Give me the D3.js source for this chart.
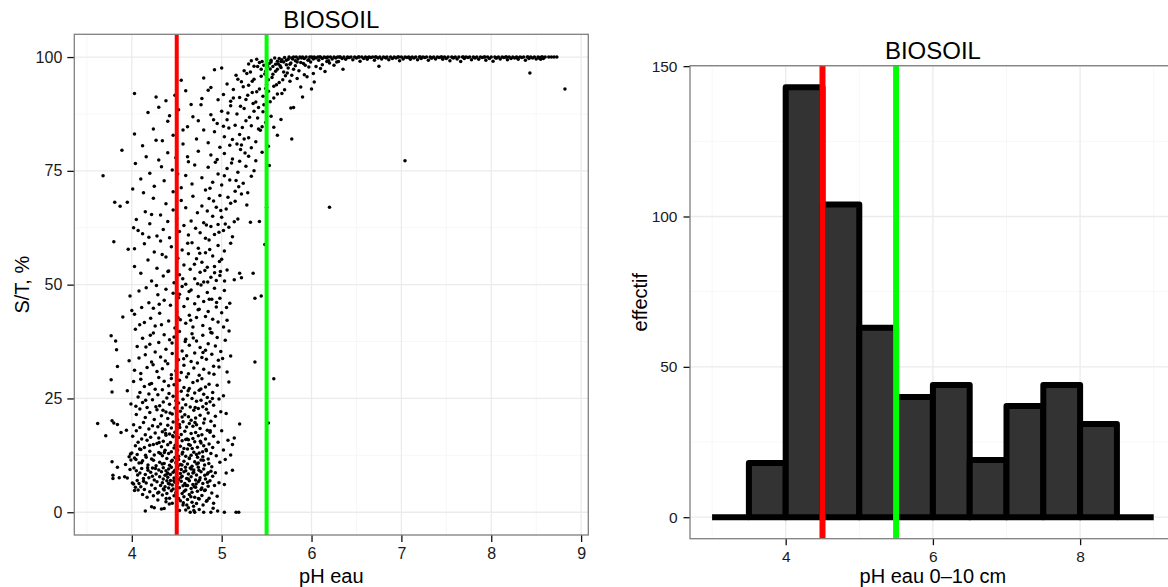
<!DOCTYPE html>
<html><head><meta charset="utf-8">
<script src="https://cdn.jsdelivr.net/npm/d3@7"></script>
<style>
body{margin:0;background:#fff}
svg{display:block}
text{font-family:"Liberation Sans",Arial,Helvetica,sans-serif}
</style>
</head><body>
<svg id="chart" width="1168" height="587"></svg>
<script>
// ---------------- DATA ----------------
const panelTitle = "BIOSOIL";
const scatterXLabel = "pH eau";
const scatterYLabel = "S/T, %";
const histXLabel = "pH eau 0\u201310 cm";
const histYLabel = "effectif";
const scatterXTicks = [4, 5, 6, 7, 8, 9];
const scatterYTicks = [0, 25, 50, 75, 100];
const histXTicks = [4, 6, 8];
const histYTicks = [0, 50, 100, 150];
const thresholdValues = [4.5, 5.5];
const thresholdNames = ["red", "green"];

const histBinStarts = [3, 3.5, 4, 4.5, 5, 5.5, 6, 6.5, 7, 7.5, 8, 8.5];
const histBinWidth = 0.5;
const histCounts = [0, 18, 143, 104, 63, 40, 44, 19, 37, 44, 31, 0];

// scatter observations [pH eau, S/T %]
const obsST0to10 = [[3.79,8.1],[3.79,7.4],[3.84,9.9],[3.86,7.6],[3.92,7.8],[3.95,7.5],[3.98,9.4],[4.02,6.2],[4.03,4.8],[4.04,5.5],[4.05,9.1],[4.06,7.0],[4.07,4.9],[4.08,6.3],[4.09,8.6],[4.1,5.6],[4.11,9.6],[4.12,3.9],[4.13,7.4],[4.14,5.0],[4.15,0.3],[4.15,8.3],[4.16,6.4],[4.17,3.3],[4.18,9.2],[4.19,7.6],[4.2,4.5],[4.21,8.8],[4.22,1.2],[4.22,6.0],[4.23,9.7],[4.24,3.6],[4.25,7.1],[4.25,1.0],[4.26,5.2],[4.27,8.4],[4.28,6.7],[4.29,2.7],[4.3,9.3],[4.3,4.4],[4.31,7.8],[4.32,5.9],[4.33,0.7],[4.33,8.9],[4.34,3.8],[4.34,6.5],[4.35,9.8],[4.35,7.3],[4.36,0.8],[4.36,4.9],[4.37,8.1],[4.37,5.6],[4.38,2.3],[4.38,9.1],[4.39,6.9],[4.39,4.1],[4.4,7.7],[4.4,8.6],[4.41,5.3],[4.41,9.5],[4.42,3.1],[4.42,6.2],[4.43,8.3],[4.43,7.0],[4.44,4.7],[4.44,9.9],[4.45,6.0],[4.45,2.0],[4.46,8.8],[4.46,5.1],[4.47,7.5],[4.47,3.6],[4.48,9.2],[4.48,6.6],[4.49,4.3],[4.5,8.0],[4.5,1.3],[4.51,6.4],[4.51,9.6],[4.52,3.0],[4.52,7.2],[4.53,0.4],[4.53,5.4],[4.54,8.5],[4.54,2.5],[4.55,6.8],[4.55,9.4],[4.56,4.1],[4.56,7.9],[4.57,1.6],[4.57,5.8],[4.58,8.9],[4.58,3.4],[4.59,6.3],[4.6,0.5],[4.6,9.1],[4.6,4.9],[4.61,7.4],[4.62,2.8],[4.62,5.9],[4.63,8.4],[4.63,1.0],[4.64,6.9],[4.64,3.9],[4.65,0],[4.65,9.7],[4.66,5.2],[4.66,7.8],[4.67,2.2],[4.67,4.4],[4.68,8.6],[4.68,6.1],[4.69,0.4],[4.69,9.3],[4.7,0],[4.7,3.3],[4.71,7.1],[4.71,5.5],[4.72,1.9],[4.72,8.2],[4.73,4.6],[4.74,6.7],[4.74,9.9],[4.75,2.9],[4.75,0.6],[4.76,7.6],[4.77,5.0],[4.77,8.9],[4.78,3.7],[4.79,6.3],[4.8,0],[4.8,9.5],[4.81,4.8],[4.82,7.3],[4.83,2.4],[4.84,8.4],[4.85,5.7],[4.86,3.1],[4.87,6.9],[4.88,0],[4.88,9.0],[4.89,4.2],[4.9,7.9],[4.91,2.0],[4.92,5.9],[4.93,8.7],[4.95,3.5],[4.97,6.5],[5.03,0],[5.03,6.1],[5.05,8.6],[5.12,9.2],[5.16,0],[5.19,0]];

const obsST10to20 = [[3.62,19.5],[3.71,16.8],[3.78,11.1],[3.8,19.6],[3.84,19.3],[3.88,17.5],[3.93,10.5],[3.94,18.0],[3.97,12.2],[3.99,11.5],[4.0,13.0],[4.01,16.7],[4.02,19.2],[4.03,11.9],[4.04,14.6],[4.05,17.9],[4.06,12.7],[4.07,15.4],[4.08,10.8],[4.09,18.6],[4.1,13.8],[4.11,16.1],[4.12,11.3],[4.13,19.7],[4.14,14.2],[4.15,17.0],[4.16,12.1],[4.17,15.8],[4.18,10.4],[4.19,18.3],[4.2,13.4],[4.21,16.5],[4.22,11.7],[4.23,19.0],[4.24,14.9],[4.25,12.6],[4.26,17.4],[4.27,10.2],[4.28,15.1],[4.29,18.8],[4.3,13.1],[4.3,16.3],[4.31,11.0],[4.32,19.4],[4.33,14.4],[4.34,17.7],[4.34,12.4],[4.35,15.6],[4.36,10.7],[4.37,18.1],[4.37,13.6],[4.38,16.9],[4.39,11.8],[4.4,14.8],[4.4,19.1],[4.41,12.9],[4.42,17.2],[4.42,10.3],[4.43,15.3],[4.44,18.5],[4.44,13.3],[4.45,11.4],[4.46,16.6],[4.46,19.8],[4.47,14.1],[4.48,12.0],[4.48,17.6],[4.49,10.9],[4.5,15.0],[4.5,18.2],[4.51,13.7],[4.52,11.6],[4.52,16.4],[4.53,19.3],[4.54,14.5],[4.54,10.5],[4.55,17.1],[4.56,12.8],[4.56,15.7],[4.57,19.9],[4.58,11.2],[4.58,14.0],[4.59,17.8],[4.6,12.3],[4.6,16.0],[4.61,18.7],[4.62,10.6],[4.62,13.9],[4.63,15.9],[4.64,19.5],[4.64,11.9],[4.65,14.7],[4.66,17.3],[4.66,12.5],[4.67,10.1],[4.68,16.2],[4.68,18.9],[4.69,13.2],[4.7,11.1],[4.7,15.5],[4.71,17.5],[4.72,12.7],[4.72,19.2],[4.73,14.3],[4.74,10.8],[4.74,16.8],[4.75,13.0],[4.76,18.4],[4.77,11.5],[4.77,15.2],[4.78,17.0],[4.79,12.2],[4.8,19.6],[4.8,14.6],[4.81,10.4],[4.82,16.1],[4.83,13.5],[4.84,18.0],[4.85,11.7],[4.86,15.0],[4.87,17.6],[4.88,12.9],[4.89,10.0],[4.9,14.2],[4.91,16.7],[4.92,19.0],[4.94,12.4],[4.96,15.4],[4.98,11.0],[5.0,17.9],[5.02,13.7],[5.04,11.6],[5.07,15.8],[5.1,12.6],[5.12,14.9],[5.14,16.3],[5.2,19.4],[5.52,19.6]];

const obsST20to30 = [[3.77,29.1],[3.78,26.4],[3.78,20.1],[3.95,26.7],[3.99,23.8],[4.02,28.7],[4.05,21.5],[4.07,25.3],[4.09,22.7],[4.1,29.2],[4.12,24.1],[4.14,27.6],[4.15,20.8],[4.17,23.0],[4.19,26.0],[4.2,21.9],[4.22,28.3],[4.23,24.7],[4.25,20.4],[4.26,27.0],[4.28,22.5],[4.29,25.8],[4.3,29.6],[4.31,23.4],[4.33,21.2],[4.34,26.9],[4.35,24.2],[4.36,28.8],[4.38,22.0],[4.39,25.1],[4.4,20.6],[4.41,27.8],[4.42,23.7],[4.44,29.4],[4.45,21.6],[4.46,25.5],[4.47,28.0],[4.48,22.9],[4.5,26.4],[4.51,20.3],[4.52,24.0],[4.53,29.0],[4.54,22.2],[4.55,26.6],[4.56,20.9],[4.57,24.8],[4.58,27.4],[4.59,21.4],[4.6,23.6],[4.61,29.7],[4.62,25.7],[4.63,21.0],[4.64,27.2],[4.65,23.1],[4.66,20.2],[4.67,25.0],[4.68,28.5],[4.69,22.4],[4.7,26.2],[4.71,20.7],[4.72,24.4],[4.73,28.9],[4.74,22.8],[4.75,26.8],[4.76,21.3],[4.77,24.6],[4.78,29.3],[4.79,23.2],[4.8,25.9],[4.81,20.5],[4.82,27.5],[4.83,22.6],[4.84,25.2],[4.85,21.8],[4.86,28.1],[4.87,24.3],[4.88,20.0],[4.9,26.3],[4.91,23.5],[4.93,21.1],[4.95,27.9],[4.97,24.9],[4.99,22.1],[5.02,25.6],[5.05,21.7],[5.08,28.6],[5.58,29.3]];

const obsST30to40 = [[3.77,38.8],[3.82,37.6],[3.83,35.7],[3.84,32.0],[3.97,33.3],[4.03,31.2],[4.06,36.4],[4.08,33.9],[4.1,30.5],[4.12,38.2],[4.15,34.6],[4.17,31.8],[4.2,36.9],[4.22,33.0],[4.24,39.4],[4.26,35.2],[4.28,30.9],[4.3,37.3],[4.32,34.1],[4.34,31.5],[4.36,39.0],[4.38,35.8],[4.4,32.6],[4.42,37.9],[4.44,30.2],[4.45,34.9],[4.47,38.5],[4.49,31.1],[4.5,36.1],[4.52,33.5],[4.53,39.7],[4.55,30.7],[4.56,35.4],[4.58,32.3],[4.6,38.0],[4.61,34.4],[4.63,30.4],[4.64,36.7],[4.66,33.1],[4.67,39.2],[4.69,31.7],[4.7,35.0],[4.72,37.6],[4.73,32.8],[4.75,30.1],[4.76,36.2],[4.78,34.0],[4.79,38.9],[4.8,31.4],[4.82,35.6],[4.83,33.6],[4.85,37.0],[4.86,30.6],[4.88,39.5],[4.89,34.7],[4.91,32.1],[4.93,36.5],[4.95,38.4],[4.97,31.9],[4.99,35.3],[5.01,33.8],[5.04,37.8],[5.06,30.8],[5.1,34.3],[5.37,33.0]];

const obsST40to50 = [[3.9,42.9],[3.98,47.5],[4.0,44.3],[4.03,43.5],[4.04,40.2],[4.08,48.6],[4.11,45.0],[4.14,41.7],[4.16,49.3],[4.19,46.0],[4.21,42.6],[4.24,44.8],[4.26,40.9],[4.29,47.8],[4.31,43.7],[4.33,41.2],[4.36,46.6],[4.38,49.0],[4.41,42.0],[4.43,45.5],[4.46,48.1],[4.48,40.5],[4.5,44.0],[4.52,47.1],[4.54,42.3],[4.56,49.6],[4.58,45.2],[4.6,41.5],[4.62,46.9],[4.64,43.3],[4.66,48.8],[4.68,40.7],[4.7,45.8],[4.72,42.8],[4.74,47.4],[4.75,44.6],[4.77,49.9],[4.79,41.0],[4.8,46.3],[4.82,43.0],[4.84,48.3],[4.85,44.1],[4.87,40.3],[4.89,46.8],[4.9,42.4],[4.92,49.2],[4.94,45.1],[4.96,41.8],[4.98,47.0],[5.0,43.8],[5.03,48.7],[5.06,42.2],[5.09,45.9],[5.37,47.0],[5.44,47.5]];

const obsST50to60 = [[3.8,59.4],[3.96,57.8],[4.03,54.0],[4.03,57.9],[4.1,52.5],[4.14,59.0],[4.18,55.4],[4.22,50.8],[4.25,57.2],[4.28,53.6],[4.32,59.6],[4.35,51.9],[4.38,56.1],[4.41,53.0],[4.44,58.3],[4.47,50.4],[4.5,55.0],[4.53,52.2],[4.56,57.6],[4.58,54.3],[4.6,50.1],[4.63,56.8],[4.65,53.4],[4.67,59.2],[4.7,51.3],[4.72,55.7],[4.74,58.0],[4.76,52.7],[4.78,54.9],[4.8,50.6],[4.82,57.0],[4.84,53.8],[4.86,59.8],[4.88,51.6],[4.9,56.3],[4.92,54.0],[4.94,50.9],[4.96,58.6],[4.98,52.0],[5.0,55.6],[5.03,57.4],[5.06,53.2],[5.1,59.1],[5.14,51.1],[5.2,52.5],[5.22,51.5],[5.35,52.5],[5.48,58.8]];

const obsST60to70 = [[3.81,68.1],[3.87,67.2],[3.95,68.1],[4.02,62.5],[4.05,64.3],[4.12,61.2],[4.15,66.0],[4.2,63.4],[4.24,69.0],[4.28,60.7],[4.32,65.3],[4.35,62.1],[4.38,67.8],[4.4,63.9],[4.42,60.3],[4.46,66.4],[4.5,64.6],[4.53,61.7],[4.55,68.5],[4.58,63.0],[4.6,66.9],[4.63,60.9],[4.66,64.0],[4.68,69.4],[4.71,62.4],[4.73,65.8],[4.76,61.4],[4.78,67.3],[4.8,63.6],[4.82,60.2],[4.84,66.2],[4.86,68.9],[4.88,62.8],[4.9,65.0],[4.92,61.0],[4.94,67.0],[4.96,63.2],[4.98,69.6],[5.0,64.8],[5.02,61.9],[5.05,66.6],[5.08,62.6],[5.12,60.5],[5.15,68.3],[5.18,64.4],[5.22,69.9],[5.28,67.5],[5.32,63.7],[5.42,63.9],[5.5,67.0],[6.2,67.0]];

const obsST70to80 = [[3.68,73.9],[3.89,79.5],[4.01,71.0],[4.04,76.6],[4.1,73.2],[4.16,78.1],[4.2,74.5],[4.25,71.6],[4.3,77.4],[4.36,72.8],[4.4,79.0],[4.45,75.2],[4.49,77.9],[4.55,71.3],[4.6,74.0],[4.63,77.0],[4.67,72.1],[4.7,76.3],[4.74,79.3],[4.78,73.5],[4.82,70.8],[4.85,75.8],[4.88,78.5],[4.9,72.5],[4.93,76.9],[4.96,74.3],[5.0,71.9],[5.03,78.8],[5.06,75.5],[5.09,73.0],[5.12,77.6],[5.15,70.5],[5.18,74.7],[5.21,79.7],[5.24,72.3],[5.27,76.0],[5.3,78.2],[5.33,73.8],[5.38,77.2],[5.45,79.1],[5.53,76.2],[7.04,77.2]];

const obsST80to90 = [[4.03,83.1],[4.12,80.5],[4.18,87.8],[4.24,84.2],[4.3,89.0],[4.34,81.6],[4.4,85.9],[4.46,82.8],[4.52,88.4],[4.57,80.9],[4.62,84.7],[4.68,86.9],[4.72,82.0],[4.77,89.5],[4.8,84.0],[4.85,81.2],[4.88,87.3],[4.92,83.6],[4.95,85.4],[4.98,80.2],[5.0,88.1],[5.03,82.5],[5.06,86.2],[5.08,84.4],[5.1,89.3],[5.12,81.9],[5.15,85.0],[5.17,87.5],[5.2,83.0],[5.22,80.7],[5.25,88.7],[5.27,86.0],[5.3,82.3],[5.33,84.9],[5.35,89.8],[5.38,81.4],[5.4,86.6],[5.43,83.9],[5.46,88.0],[5.49,85.6],[5.52,80.4],[5.55,87.0],[5.58,84.6],[5.62,82.8],[5.66,86.3],[5.78,82.0],[5.77,88.8],[5.8,88.9]];

const obsST90to98 = [[4.03,92.0],[4.27,91.2],[4.38,90.4],[4.48,91.6],[4.55,94.9],[4.6,92.6],[4.78,90.9],[4.8,95.4],[4.88,93.3],[4.92,97.2],[5.0,97.6],[5.02,91.8],[5.06,94.1],[5.1,90.3],[5.13,92.9],[5.16,96.0],[5.2,91.1],[5.22,94.6],[5.25,97.0],[5.27,90.7],[5.3,93.8],[5.32,96.7],[5.34,92.2],[5.36,95.1],[5.38,90.1],[5.4,97.9],[5.42,93.0],[5.44,95.8],[5.46,91.4],[5.48,96.3],[5.5,94.0],[5.52,92.5],[5.54,97.4],[5.56,95.5],[5.58,93.6],[5.6,96.9],[5.62,91.9],[5.64,94.4],[5.66,97.7],[5.68,95.0],[5.7,92.8],[5.73,96.5],[5.76,94.7],[5.8,97.3],[5.84,95.3],[5.88,93.4],[5.9,91.2],[5.92,96.1],[5.97,97.8],[6.0,93.0],[6.02,96.4],[6.03,94.5],[6.1,97.5],[6.15,96.8],[6.35,97.3],[6.75,98.0],[8.43,96.5],[8.82,93.0]];

const obsST98to100 = [[5.3,98.5],[5.33,99.2],[5.36,98.0],[5.39,99.5],[5.42,98.8],[5.45,99.0],[5.47,98.2],[5.5,99.6],[5.53,98.6],[5.55,99.3],[5.57,97.9],[5.59,99.8],[5.6,98.4],[5.62,99.1],[5.64,99.7],[5.65,98.1],[5.67,99.4],[5.69,98.9],[5.7,99.9],[5.72,98.3],[5.74,99.5],[5.75,100],[5.77,98.7],[5.78,99.8],[5.8,100],[5.82,99.2],[5.83,100],[5.85,99.6],[5.87,100],[5.88,98.8],[5.9,100],[5.92,99.7],[5.94,100],[5.96,99.3],[5.98,100],[6.0,100],[6.02,99.6],[6.03,100],[6.05,99.8],[6.07,100],[6.08,99.3],[6.1,100],[6.12,99.7],[6.12,98.3],[6.14,100],[6.16,99.9],[6.18,100],[6.19,99.2],[6.2,98.7],[6.21,100],[6.23,99.6],[6.25,100],[6.25,98.2],[6.27,99.8],[6.29,100],[6.3,99.0],[6.32,100],[6.34,99.7],[6.36,100],[6.38,99.5],[6.4,100],[6.42,99.9],[6.44,100],[6.46,99.4],[6.48,100],[6.5,99.8],[6.52,100],[6.54,99.1],[6.56,100],[6.58,99.7],[6.6,100],[6.62,99.5],[6.64,100],[6.66,99.9],[6.68,100],[6.7,99.3],[6.72,100],[6.74,99.8],[6.76,100],[6.78,99.6],[6.8,100],[6.82,99.9],[6.84,100],[6.86,99.4],[6.88,100],[6.9,99.7],[6.92,100],[6.94,99.8],[6.96,100],[6.98,99.2],[7.0,100],[7.02,99.6],[7.04,100],[7.06,99.9],[7.08,100],[7.1,99.5],[7.12,100],[7.14,99.8],[7.16,100],[7.18,99.4],[7.2,100],[7.22,99.7],[7.24,100],[7.26,99.9],[7.28,100],[7.3,99.3],[7.32,100],[7.34,99.8],[7.36,100],[7.38,99.6],[7.4,100],[7.42,99.9],[7.44,100],[7.46,99.5],[7.48,100],[7.5,99.7],[7.52,100],[7.54,99.2],[7.56,100],[7.58,99.8],[7.6,100],[7.62,99.6],[7.64,100],[7.66,99.0],[7.68,100],[7.7,99.7],[7.72,100],[7.74,99.9],[7.76,100],[7.78,99.4],[7.8,100],[7.82,99.8],[7.84,100],[7.86,99.5],[7.88,100],[7.9,99.9],[7.92,100],[7.94,99.3],[7.96,100],[7.98,99.7],[8.0,100],[8.02,99.1],[8.04,100],[8.06,99.8],[8.08,100],[8.1,99.6],[8.12,100],[8.14,99.9],[8.16,100],[8.18,99.4],[8.2,100],[8.22,99.7],[8.24,100],[8.26,99.8],[8.28,100],[8.3,99.5],[8.32,100],[8.34,99.9],[8.36,100],[8.38,99.3],[8.4,100],[8.42,99.7],[8.44,100],[8.46,99.8],[8.48,100],[8.5,99.6],[8.52,100],[8.54,99.9],[8.56,100],[8.58,99.7],[8.6,100],[8.64,100],[8.67,100],[8.7,100],[8.73,100],
[6.01,99.9],[6.09,100],[6.17,99.8],[6.31,100],[6.41,99.9],[6.53,100],[6.63,99.9],[6.71,100],[6.83,99.8],[6.97,100],[7.09,99.9],[7.21,100],[7.33,99.8],[7.45,100],[7.57,99.9],[7.69,100],[7.81,99.9],[7.93,100],[8.05,99.8],[8.17,100],[8.29,99.9],[8.41,100],[8.53,99.8],[8.57,100],[8.55,99.5]];

const obsExtraLow = [[4.263,9.6],[4.318,12.9],[4.351,5.1],[4.377,17.3],[4.392,8.4],[4.426,21.8],[4.441,11.2],[4.468,6.9],[4.483,14.7],[4.497,3.9],[4.512,10.1],[4.534,18.6],[4.547,7.7],[4.566,13.2],[4.583,4.6],[4.597,9.9],[4.615,16.1],[4.628,7.3],[4.641,11.8],[4.657,3.4],[4.672,14.0],[4.689,8.8],[4.703,19.7],[4.716,6.2],[4.732,12.1],[4.748,9.2],[4.763,15.6],[4.779,5.3],[4.796,11.4],[4.812,8.1],[4.826,13.8],[4.843,6.6],[4.857,10.7],[4.872,17.9],[4.288,4.2],[4.304,15.3],[4.339,10.6],[4.362,13.1],[4.408,6.3],[4.455,16.8],[4.476,9.0],[4.521,12.3],[4.558,10.4],[4.604,5.9],[4.633,14.9],[4.662,9.5],[4.694,5.6],[4.724,10.6],[4.755,7.1],[4.788,13.3],[4.818,4.9],[4.85,8.7],[4.241,11.4],[4.229,7.9],[4.199,14.7],[4.176,9.8],[4.153,12.5],[4.131,6.8],[4.108,10.9],[4.087,13.9],[4.065,8.2],[4.046,11.6],[4.024,9.7],[4.006,6.4],[3.985,12.8],[4.382,3.0],[4.417,1.8],[4.573,2.1],[4.612,1.6],[4.687,1.3],[4.742,3.0],[4.793,1.6],[4.837,2.6],[4.905,0.9],[4.955,0.3],[4.268,23.2],[4.347,22.4],[4.414,26.1],[4.49,24.5],[4.561,22.9],[4.627,26.7],[4.705,23.0],[4.769,27.1],[4.828,23.9],[4.897,25.0],[4.198,28.1],[4.154,24.6],[4.09,26.3],[4.045,23.3]];

const obsExtraMid = [[4.448,37.2],[4.513,42.8],[4.577,33.7],[4.638,48.5],[4.684,38.3],[4.738,44.5],[4.792,35.1],[4.845,50.6],[4.893,39.4],[4.943,46.1],[4.986,52.9],[4.512,55.8],[4.567,51.3],[4.622,59.1],[4.697,54.5],[4.756,56.9],[4.813,53.1],[4.867,57.7],[4.921,52.6],[4.975,55.1],[5.032,50.8],[4.402,52.9],[4.338,56.6],[4.274,49.8],[4.206,38.9],[4.157,36.3],[4.088,41.2],[4.373,33.2],[4.305,45.7],[4.237,32.4],[4.914,30.3],[4.963,33.4],[5.021,40.7],[5.054,45.0],[5.082,39.8],[4.862,46.8],[4.733,50.2],[4.655,42.2],[4.594,37.5],[4.531,47.9]];

const obsExtraHigh = [[4.83,63.1],[4.87,71.2],[4.91,68.4],[4.95,77.5],[4.99,66.3],[5.03,73.9],[5.07,69.2],[5.11,76.7],[5.14,63.8],[5.17,80.9],[5.19,71.5],[5.23,84.5],[5.26,78.9],[5.29,91.6],[5.31,86.8],[5.34,94.7],[5.36,88.1],[5.39,92.4],[5.41,84.2],[5.44,97.3],[5.47,89.5],[5.49,93.1],[5.51,98.0],[5.54,90.2],[5.57,96.2],[5.61,93.9],[5.63,98.5],[5.67,92.0],[5.71,95.9],[5.74,97.6],[5.78,96.0],[5.82,98.1],[5.86,97.0],[5.91,98.6],[5.95,95.7],[5.99,98.9],[6.05,97.9],[6.17,99.0],[6.28,98.9],[5.07,87.7],[5.13,91.0],[5.18,95.1],[5.21,89.2],[5.24,93.5],[5.28,96.4],[5.09,80.6],[5.02,84.8],[4.96,90.6],[4.91,86.2],[4.85,92.7],[4.74,86.0],[4.66,89.6],[4.62,78.1],[4.57,84.0],[4.51,74.3],[4.46,70.4],[4.42,87.1],[4.33,75.9],[4.27,81.7],[4.22,65.4],[4.19,60.4],[4.13,70.2],[4.07,61.9],[4.97,61.5],[5.04,63.3],[5.1,67.9],[5.16,72.9],[5.2,77.1],[5.25,82.0],[5.29,70.2],[5.33,80.1],[5.36,75.0],[5.41,88.9],[5.45,84.7],[5.49,96.9],[5.52,95.0],[5.55,98.9],[5.58,91.0],[5.62,97.3],[5.66,99.0],[5.69,96.7],[5.72,99.3],[5.76,98.4],[5.79,99.6],[5.84,98.9],[5.89,99.8],[5.93,98.2],[5.97,99.4]];

// ---------------- DRAWING ----------------
const scatterData = [].concat(obsST0to10, obsST10to20, obsST20to30, obsST30to40, obsST40to50,
  obsST50to60, obsST60to70, obsST70to80, obsST80to90, obsST90to98, obsST98to100,
  obsExtraLow, obsExtraMid, obsExtraHigh);

const colorMap = {red: "#ff0000", green: "#00ff00"};
const svg = d3.select("#chart");
const FONT = '"Liberation Sans", Arial, Helvetica, sans-serif';

function expand(ext, f) { const d = (ext[1] - ext[0]) * f; return [ext[0] - d, ext[1] + d]; }

function midpoints(ticks) {
  const m = [];
  const step = ticks[1] - ticks[0];
  m.push(ticks[0] - step / 2);
  ticks.forEach(t => m.push(t + step / 2));
  return m;
}

function drawFrame(g, box, x, y, xTicks, yTicks, opts) {
  const xMin = midpoints(xTicks).filter(v => v > x.domain()[0] && v < x.domain()[1]);
  const yMin = midpoints(yTicks).filter(v => v > y.domain()[0] && v < y.domain()[1]);
  const grid = g.append("g");
  grid.selectAll(".vmin").data(xMin).join("line")
    .attr("x1", d => x(d)).attr("x2", d => x(d)).attr("y1", box.top).attr("y2", box.bottom)
    .attr("stroke", "#f7f7f7").attr("stroke-width", 1);
  grid.selectAll(".hmin").data(yMin).join("line")
    .attr("y1", d => y(d)).attr("y2", d => y(d)).attr("x1", box.left).attr("x2", box.right)
    .attr("stroke", "#f7f7f7").attr("stroke-width", 1);
  grid.selectAll(".vmaj").data(xTicks).join("line")
    .attr("x1", d => x(d)).attr("x2", d => x(d)).attr("y1", box.top).attr("y2", box.bottom)
    .attr("stroke", "#ebebeb").attr("stroke-width", 1.3);
  grid.selectAll(".hmaj").data(yTicks).join("line")
    .attr("y1", d => y(d)).attr("y2", d => y(d)).attr("x1", box.left).attr("x2", box.right)
    .attr("stroke", "#ebebeb").attr("stroke-width", 1.3);

  const xa = g.append("g").attr("transform", `translate(0,${box.bottom})`)
    .call(d3.axisBottom(x).tickValues(xTicks).tickSize(opts.tick).tickPadding(opts.xpad).tickFormat(d3.format("d")));
  const ya = g.append("g").attr("transform", `translate(${box.left},0)`)
    .call(d3.axisLeft(y).tickValues(yTicks).tickSize(opts.tick).tickPadding(opts.ypad).tickFormat(d3.format("d")));
  [xa, ya].forEach(a => {
    a.select(".domain").remove();
    a.selectAll(".tick line").attr("stroke", "#111").attr("stroke-width", 1.3);
    a.selectAll(".tick text").attr("fill", "#1a1a1a").style("font-size", opts.fs + "px").style("font-family", FONT);
  });
}

function drawBorder(g, box) {
  g.append("rect").attr("x", box.left).attr("y", box.top)
    .attr("width", box.right - box.left).attr("height", box.bottom - box.top)
    .attr("fill", "none").attr("stroke", "#7f7f7f").attr("stroke-width", 1.3);
}

function drawLabels(g, box, title, titleY, xl, yl, ylX) {
  const cx = (box.left + box.right) / 2;
  g.append("text").attr("x", cx).attr("y", titleY).attr("text-anchor", "middle")
    .style("font-size", "24px").attr("fill", "#000").text(title);
  g.append("text").attr("x", cx).attr("y", 583).attr("text-anchor", "middle")
    .style("font-size", "20px").attr("fill", "#000").text(xl);
  g.append("text").attr("transform", `translate(${ylX},${(box.top + box.bottom) / 2}) rotate(-90)`)
    .attr("text-anchor", "middle").style("font-size", "20px").attr("fill", "#000").text(yl);
}

// ---- left: scatter ----
{
  const box = {left: 74.3, right: 588.3, top: 34.3, bottom: 535};
  const x = d3.scaleLinear().domain(expand(d3.extent(scatterData, d => d[0]), 0.05)).range([box.left, box.right]);
  const y = d3.scaleLinear().domain(expand([0, 100], 0.05)).range([box.bottom, box.top]);
  const g = svg.append("g");
  drawFrame(g, box, x, y, scatterXTicks, scatterYTicks, {tick: 7, xpad: 6, ypad: 5, fs: 16});
  g.append("g").selectAll("circle").data(scatterData).join("circle")
    .attr("cx", d => x(d[0])).attr("cy", d => y(d[1])).attr("r", 1.75).attr("fill", "#000");
  g.append("g").selectAll("line").data(thresholdValues).join("line")
    .attr("x1", d => x(d)).attr("x2", d => x(d)).attr("y1", box.top).attr("y2", box.bottom)
    .attr("stroke", (d, i) => colorMap[thresholdNames[i]]).attr("stroke-width", 4);
  drawBorder(g, box);
  drawLabels(g, box, panelTitle, 28, scatterXLabel, scatterYLabel, 29);
}

// ---- right: histogram ----
{
  const box = {left: 690, right: 1175.8, top: 65.7, bottom: 538.7};
  const bins = histBinStarts.map((s, i) => ({x0: s, x1: s + histBinWidth, n: histCounts[i]}));
  const x = d3.scaleLinear().domain(expand([d3.min(bins, b => b.x0), d3.max(bins, b => b.x1)], 0.05)).range([box.left, box.right]);
  const y = d3.scaleLinear().domain(expand([0, d3.max(histCounts)], 0.05)).range([box.bottom, box.top]);
  const g = svg.append("g");
  drawFrame(g, box, x, y, histXTicks, histYTicks, {tick: 6.5, xpad: 6, ypad: 6, fs: 15.5});
  g.append("g").selectAll("path").data(bins).join("path")
    .attr("d", b => `M${x(b.x0)},${y(0)}L${x(b.x0)},${y(b.n)}L${x(b.x1)},${y(b.n)}L${x(b.x1)},${y(0)}Z`)
    .attr("fill", "#333333").attr("stroke", "#000").attr("stroke-width", 6)
    .attr("stroke-linejoin", b => b.n > 0 ? "round" : "miter");
  g.append("g").selectAll("line").data(thresholdValues).join("line")
    .attr("x1", d => x(d)).attr("x2", d => x(d)).attr("y1", box.top).attr("y2", box.bottom)
    .attr("stroke", (d, i) => colorMap[thresholdNames[i]]).attr("stroke-width", 6);
  drawBorder(g, box);
  drawLabels(g, box, panelTitle, 59, histXLabel, histYLabel, 647);
}
</script>
</body></html>
